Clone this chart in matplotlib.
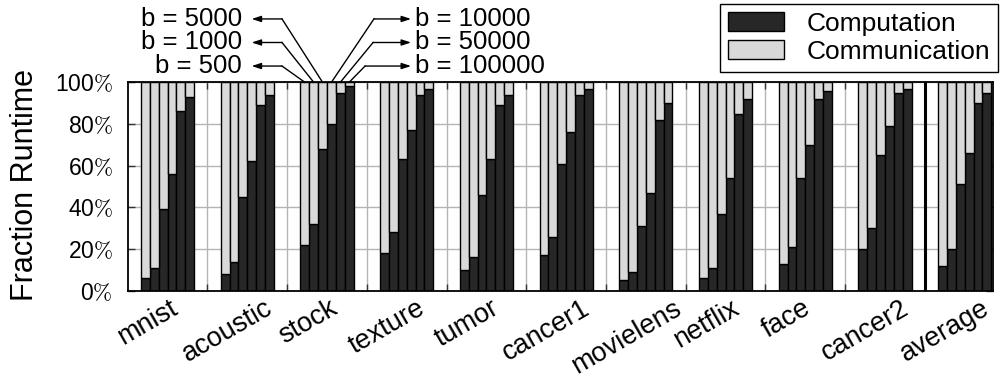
import numpy as np
import matplotlib
matplotlib.use('Agg')
import matplotlib.pyplot as plt
from matplotlib.patches import Patch
import matplotlib.transforms as mtransforms

plt.rcParams['font.family'] = ['Liberation Sans', 'DejaVu Sans']
plt.rcParams['mathtext.fontset'] = 'cm'

# ---------------- data ----------------
datasets = ['mnist', 'acoustic', 'stock', 'texture', 'tumor', 'cancer1',
            'movielens', 'netflix', 'face', 'cancer2', 'average']
batch_labels = ['b = 500', 'b = 1000', 'b = 5000', 'b = 10000', 'b = 50000', 'b = 100000']

# computation share (%) for b = 500, 1000, 5000, 10000, 50000, 100000
comp_mnist = [6, 11, 39, 56, 86, 93]
comp_acoustic = [8, 14, 45, 62, 89, 94]
comp_stock = [22, 32, 68, 80, 95, 98]
comp_texture = [18, 28, 63, 77, 94, 97]
comp_tumor = [10, 16, 46, 63, 89, 94]
comp_cancer1 = [17, 26, 61, 76, 94, 97]
comp_movielens = [5, 9, 31, 47, 82, 90]
comp_netflix = [6, 11, 37, 54, 85, 92]
comp_face = [13, 21, 54, 70, 92, 96]
comp_cancer2 = [20, 30, 65, 79, 95, 97]
comp_average = [12, 20, 51, 66, 90, 95]

y_ticks = [0, 20, 40, 60, 80, 100]

comp = np.array([comp_mnist, comp_acoustic, comp_stock, comp_texture, comp_tumor,
                 comp_cancer1, comp_movielens, comp_netflix, comp_face,
                 comp_cancer2, comp_average], dtype=float)
comm = 100.0 - comp

# ---------------- style ----------------
DARK = '#272727'
LIGHT = '#d9d9d9'
GRID = '#b5b5b5'

W, H = 1000, 379
fig = plt.figure(figsize=(W / 100, H / 100), dpi=100)
ax_left, ax_right, ax_top, ax_bot = 128, 993, 82.3, 290.7
ax = fig.add_axes([ax_left / W, 1 - ax_bot / H, (ax_right - ax_left) / W, (ax_bot - ax_top) / H])

n_groups, n_b = comp.shape
pitch = n_b + 3
for i in range(n_groups):
    xs = pitch * i + np.arange(n_b)
    ax.bar(xs, comp[i], width=1.0, color=DARK, edgecolor='black', linewidth=1.0, zorder=3)
    ax.bar(xs, comm[i], bottom=comp[i], width=1.0, color=LIGHT, edgecolor='black',
           linewidth=1.0, zorder=3)

ax.set_xlim(-1.97, pitch * (n_groups - 1) + n_b - 0.3)
ax.set_ylim(0, 100)

gap_pos = [pitch * i + n_b + 1 for i in range(n_groups - 1)]
ax.set_xticks(gap_pos)
ax.set_xticklabels([''] * len(gap_pos))
ax.set_yticks(y_ticks)
ax.set_yticklabels([f'{v}$\\%$' for v in y_ticks], fontsize=16.5)
ax.tick_params(axis='both', direction='in', length=5, width=1, top=True, right=True,
               color='#333333')
ax.tick_params(axis='y', pad=11)
ax.grid(True, color=GRID, linewidth=1.0, zorder=0)
ax.set_axisbelow(True)
ax.axvline(gap_pos[-1], color='black', linewidth=2.2, zorder=4)
for s in ax.spines.values():
    s.set_linewidth(1.3)
    s.set_zorder(5)

# y label
fig.text(25 / W, 1 - 185 / H, 'Fraction Runtime', rotation=90, ha='center', va='center',
         fontsize=22)

# x category labels (rotated)
renderer = fig.canvas.get_renderer()
XL_SIZE = 19.5
for i, name in enumerate(datasets):
    tmp = ax.text(0, 0, name, fontsize=XL_SIZE)
    w = tmp.get_window_extent(renderer).width
    tmp.remove()
    cx = pitch * i + (n_b - 1) / 2
    base = mtransforms.blended_transform_factory(ax.transData, ax.transAxes)
    tr = mtransforms.offset_copy(base, fig=fig, x=-15.7 + 0.43 * w, y=-(312.5 - ax_bot), units='dots')
    ax.text(cx, 0, name, transform=tr, rotation=30, rotation_mode='anchor', ha='right',
            va='baseline', fontsize=XL_SIZE, clip_on=False)

# batch-size annotations on the "stock" group
stock_idx = datasets.index('stock')
row_y = [107.8, 119.1, 130.4]          # bottom, middle, top rows
left_knee, left_head, left_text = -2.58, -6.01, -7.1
right_knee = [7.8, 7.7, 6.8]           # top, middle, bottom rows
right_head, right_text = 11.99, 12.4
for j in range(n_b):
    bx = pitch * stock_idx + j
    x0 = pitch * stock_idx
    if j < 3:
        yy = row_y[j]
        kx, hx, tx, ha = x0 + left_knee, x0 + left_head, x0 + left_text, 'right'
    else:
        yy = row_y[2 - (j - 3)]
        kx, hx, tx, ha = x0 + right_knee[j - 3], x0 + right_head, x0 + right_text, 'left'
    ax.plot([bx, kx], [100, yy], color='black', linewidth=1.0, clip_on=False, zorder=6)
    ax.annotate('', xy=(hx, yy), xytext=(kx, yy),
                arrowprops=dict(arrowstyle='-|>,head_length=0.55,head_width=0.18',
                                color='black', linewidth=1.0, shrinkA=0, shrinkB=0),
                annotation_clip=False)
    ax.text(tx, yy, batch_labels[j], ha=ha, va='center', fontsize=18.5, clip_on=False)

# legend
handles = [Patch(facecolor=DARK, edgecolor='black', linewidth=1.0, label='Computation'),
           Patch(facecolor=LIGHT, edgecolor='black', linewidth=1.0, label='Communication')]
leg = fig.legend(handles=handles, loc='upper right', bbox_to_anchor=(997.7 / W, 1 - 4 / H),
                 bbox_transform=fig.transFigure, fontsize=19, frameon=True, fancybox=False,
                 edgecolor='black', framealpha=1, borderaxespad=0, handlelength=2.1,
                 handleheight=0.75, handletextpad=0.85, labelspacing=0.15, borderpad=0.3)
leg.get_frame().set_linewidth(1.0)

fig.savefig('out.png', dpi=100)
